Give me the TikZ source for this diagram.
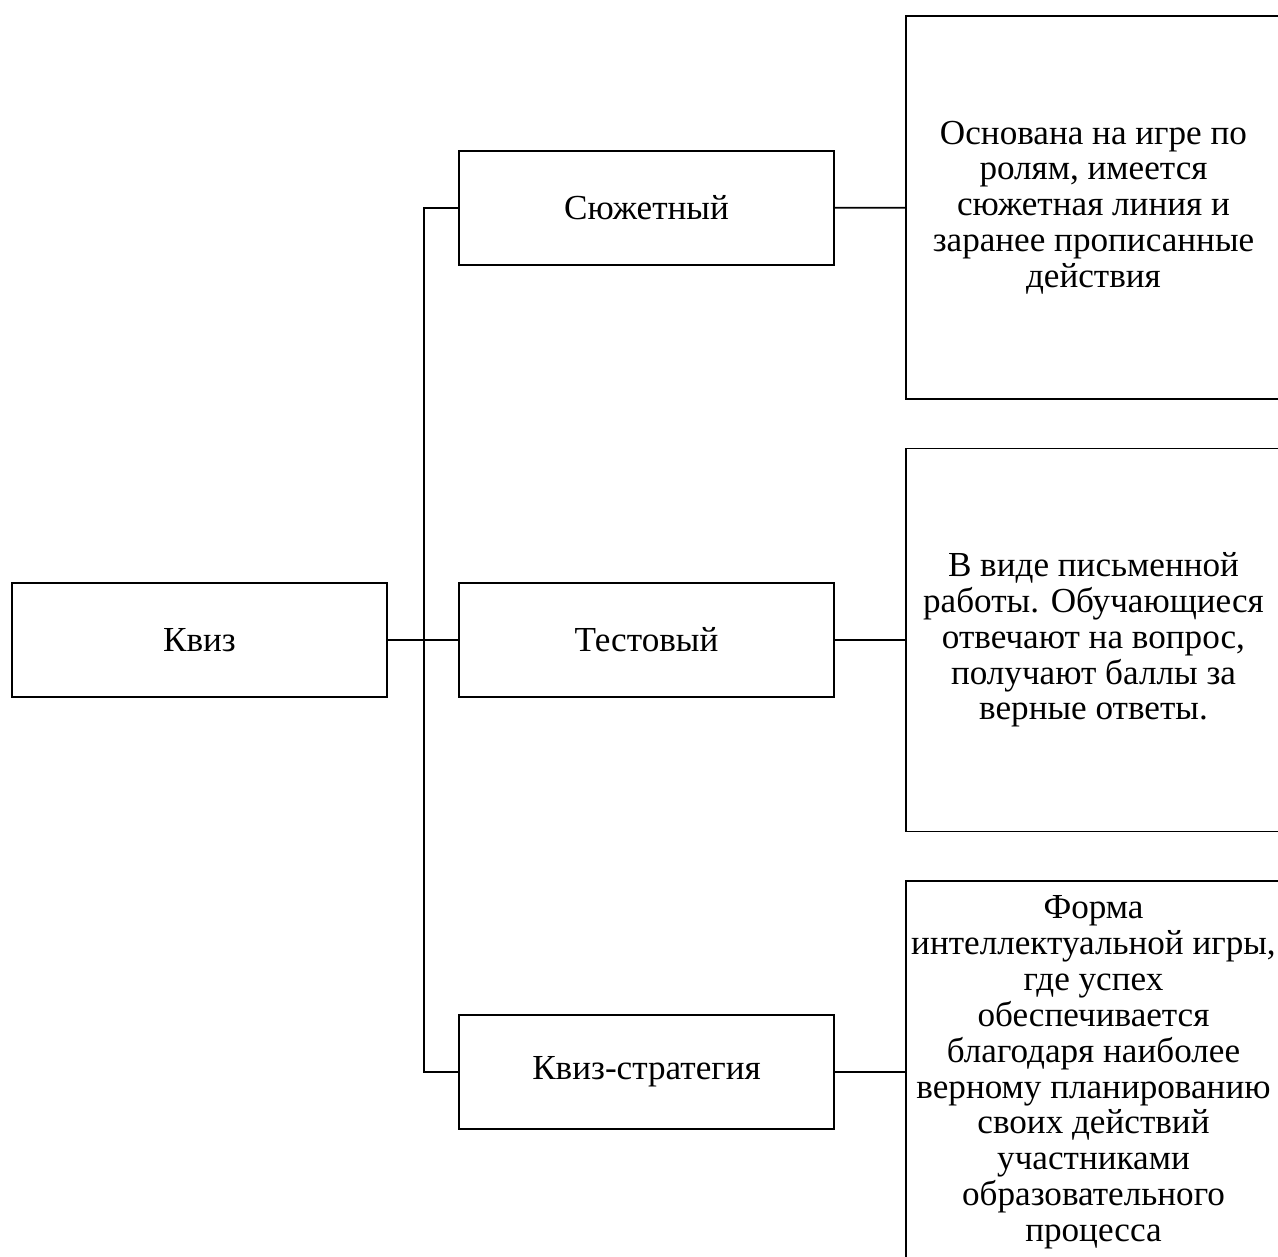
\documentclass[tikz,border=0pt]{standalone}
\usepackage{fontspec}
\setmainfont{Liberation Serif}
\usetikzlibrary{positioning}

\tikzset{
  kind/.style={draw, minimum width=7.5cm, minimum height=2.28cm,
    font=\fontsize{20}{20.4}\selectfont},
  descr/.style={draw, minimum width=7.5cm, minimum height=7.66cm,
    align=center, inner sep=1pt, font=\fontsize{20}{20.4}\selectfont},
}

\begin{document}
\begin{tikzpicture}[line width=1pt]
\clip [use as bounding box] (0,0) rectangle (25.56,-25.14);
% left column
\node [kind] (kviz) at (3.99,-12.8) {Квиз};
% kinds
\node [kind] (plot)  at (12.93,-4.16)  {Сюжетный};
\node [kind] (test)  at (12.93,-12.8)  {Тестовый};
\node [kind] (strat) at (12.93,-21.44) {Квиз-стратегия};
% descriptions
\node [descr] (plotd) at (21.87,-4.15)
  {Основана на игре по\\ролям, имеется\\сюжетная линия и\\заранее прописанные\\действия};
\node [descr] (testd) at (21.87,-12.8)
  {В виде письменной\\работы. Обучающиеся\\отвечают на вопрос,\\получают баллы за\\верные ответы.};
\node [descr, anchor=north] (stratd) at (21.87,-17.6)
  {Форма\\интеллектуальной игры,\\где успех\\обеспечивается\\благодаря наиболее\\верному планированию\\своих действий\\участниками\\образовательного\\процесса};
\coordinate (trunk) at (8.48,-12.8);
\draw (kviz) -- (test);
\draw (plot.west) -| (trunk) |- (strat.west);
\draw (plot) -- (plotd);
\draw (test) -- (testd);
\draw (strat) -- (strat -| stratd.west);
\end{tikzpicture}
\end{document}
